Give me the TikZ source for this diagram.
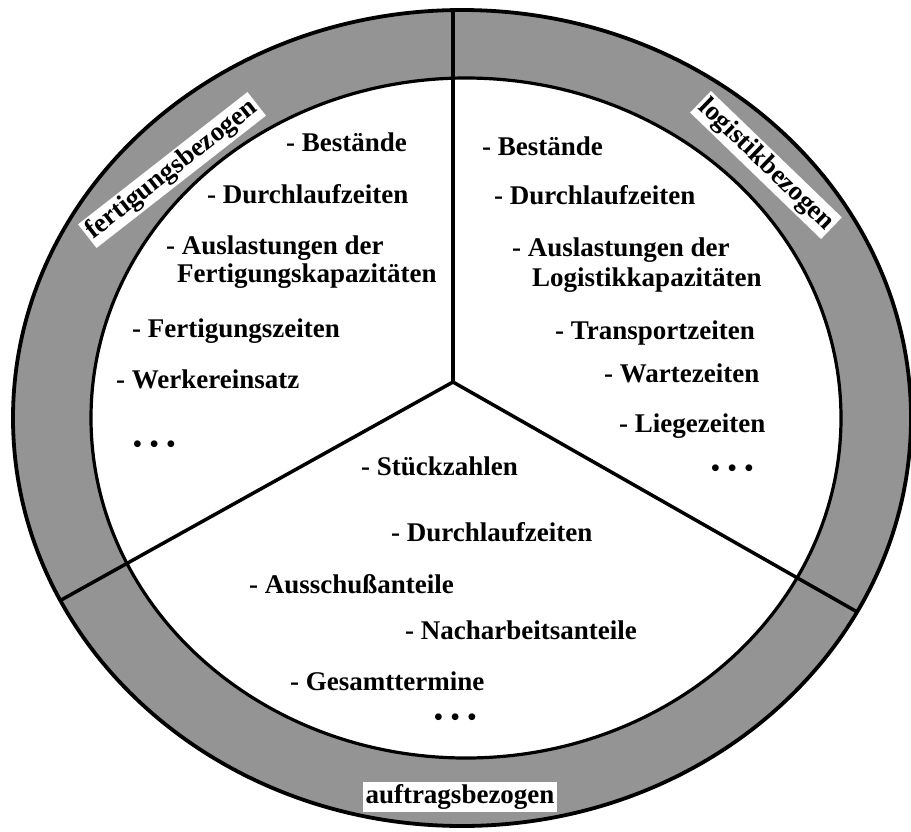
\documentclass[tikz,border=0pt]{standalone}
\usepackage{fontspec}
\setmainfont{Liberation Serif}
\begin{document}
\begin{tikzpicture}[x=1pt,y=-1pt,
  txt/.style={font=\bfseries\fontsize{27}{30}\selectfont},
  item/.style={txt,anchor=base west,inner sep=0pt},
  dots/.style={anchor=west,inner sep=0pt,font=\bfseries\fontsize{25}{30}\selectfont},
  ringlabel/.style={txt,fill=white,inner sep=2.5pt,text height=19pt,text depth=6pt},
  divider/.style={line width=3.5pt},
  rim/.style={line width=3.8pt},
  ring/.style={black!42}]
\useasboundingbox (0,0) rectangle (911,831);
% ring and inner disc
\fill[ring] (462,418) ellipse [x radius=449pt, y radius=408pt];
\fill[white] (466,418) ellipse [x radius=375pt, y radius=340pt];
% spokes
\coordinate (c) at (453,382);
\coordinate (topend) at (453,-30);
\coordinate (leftend) at (18,624);
\coordinate (rightend) at (903,638);
\begin{scope}
  \clip (462,418) ellipse [x radius=449pt, y radius=408pt];
  \draw[divider] (c) -- (topend);
  \draw[divider] (c) -- (leftend);
  \draw[divider] (c) -- (rightend);
\end{scope}
\draw[rim] (462,418) ellipse [x radius=449pt, y radius=408pt];
\draw[rim,line width=3.2pt] (466,418) ellipse [x radius=375pt, y radius=340pt];
% ring labels
\node[ringlabel,rotate=38] (lf) at (172,170) {fertigungsbezogen};
\node[ringlabel,rotate=-44] (ll) at (766,165) {logistikbezogen};
\node[ringlabel] (la) at (460,797) {auftragsbezogen};
% left sector
\node[item] (f1) at (286,151) {- Bestände};
\node[item] (f2) at (207,203) {- Durchlaufzeiten};
\node[item] (f3) at (166,254) {- Auslastungen der};
\node[item] (f4) at (177,282) {Fertigungskapazitäten};
\node[item] (f5) at (132,337) {- Fertigungszeiten};
\node[item] (f6) at (116,388) {- Werkereinsatz};
\node[dots] (f7) at (133,447) {•\hskip8pt•\hskip8pt•};
% right sector
\node[item] (g1) at (482,155) {- Bestände};
\node[item] (g2) at (494,204) {- Durchlaufzeiten};
\node[item] (g3) at (512,256) {- Auslastungen der};
\node[item] (g4) at (532,286) {Logistikkapazitäten};
\node[item] (g5) at (555,339) {- Transportzeiten};
\node[item] (g6) at (604,382) {- Wartezeiten};
\node[item] (g7) at (619,432) {- Liegezeiten};
\node[dots] (g8) at (711,471) {•\hskip8pt•\hskip8pt•};
% bottom sector
\node[item] (a1) at (361,475) {- Stückzahlen};
\node[item] (a2) at (391,541) {- Durchlaufzeiten};
\node[item] (a3) at (249,593) {- Ausschußanteile};
\node[item] (a4) at (405,639) {- Nacharbeitsanteile};
\node[item] (a5) at (290,690) {- Gesamttermine};
\node[dots] (a6) at (434,720) {•\hskip8pt•\hskip8pt•};
\end{tikzpicture}
\end{document}
